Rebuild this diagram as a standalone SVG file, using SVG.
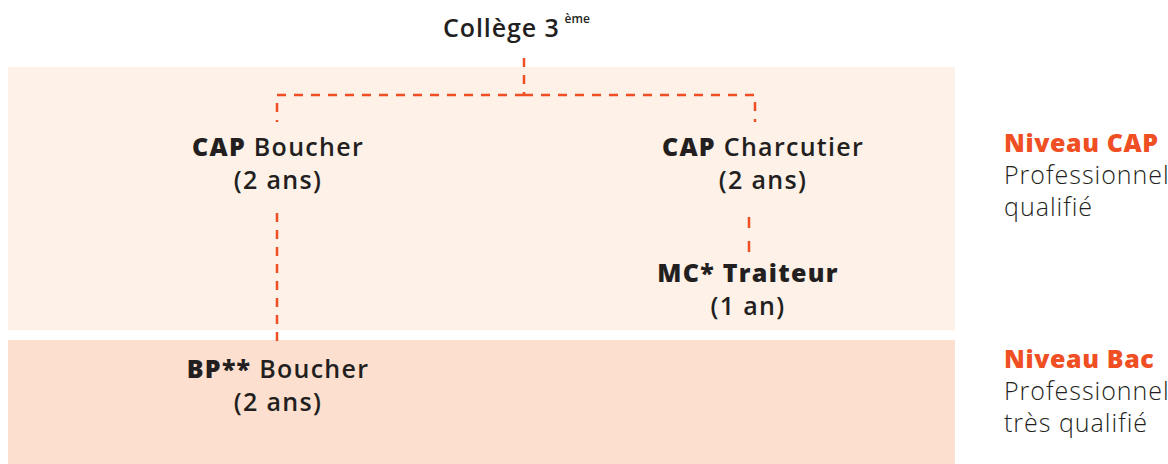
<svg xmlns="http://www.w3.org/2000/svg" width="1168" height="464" viewBox="0 0 1168 464">
<style>
.t{font-family:"Open Sans","Noto Sans",sans-serif;font-size:25px;letter-spacing:1.3px;fill:#231f20;text-anchor:middle;font-weight:600}
.b{font-weight:800}
.lv{font-family:"Open Sans","Noto Sans",sans-serif;font-size:25px;letter-spacing:0.6px;fill:#f04e23;font-weight:800}
.ds{font-family:"Open Sans","Noto Sans",sans-serif;font-size:25px;letter-spacing:1px;fill:#231f20;font-weight:300}
.c{fill:none;stroke:#f04e23;stroke-width:2.5;stroke-dasharray:9 8}
</style>
<rect x="8" y="67" width="947" height="263" fill="#fdf1e8"/>
<rect x="8" y="340" width="947" height="124" fill="#fcdfcf"/>
<g id="connectors">
<path class="c" d="M524 58V95"/>
<path class="c" d="M524 95H277V122"/>
<path class="c" d="M524 95H755V122"/>
<path class="c" d="M277 213V344"/>
<path class="c" d="M749 217V254" style="stroke-dasharray:11 13"/>
</g>
<g id="college"><text class="t" x="443" y="37" style="text-anchor:start;letter-spacing:0.9px">Collège 3<tspan font-size="12" font-weight="600" style="letter-spacing:0" dx="5" dy="-14">ème</tspan></text></g>
<g id="cap-boucher"><text class="t" x="278" y="156"><tspan class="b">CAP</tspan> Boucher</text><text class="t" x="278" y="189">(2 ans)</text></g>
<g id="cap-charcutier"><text class="t" x="763" y="156"><tspan class="b">CAP</tspan> Charcutier</text><text class="t" x="763" y="189">(2 ans)</text></g>
<g id="mc-traiteur"><text class="t b" x="748" y="282">MC* Traiteur</text><text class="t" x="748" y="315">(1 an)</text></g>
<g id="bp-boucher"><text class="t" x="278" y="378"><tspan class="b">BP**</tspan> Boucher</text><text class="t" x="278" y="411">(2 ans)</text></g>
<g id="niveau-cap"><text class="lv" x="1004" y="152">Niveau CAP</text><text class="ds" x="1004" y="184">Professionnel</text><text class="ds" x="1004" y="216">qualifié</text></g>
<g id="niveau-bac"><text class="lv" x="1004" y="368">Niveau Bac</text><text class="ds" x="1004" y="400">Professionnel</text><text class="ds" x="1004" y="432">très qualifié</text></g>
</svg>
